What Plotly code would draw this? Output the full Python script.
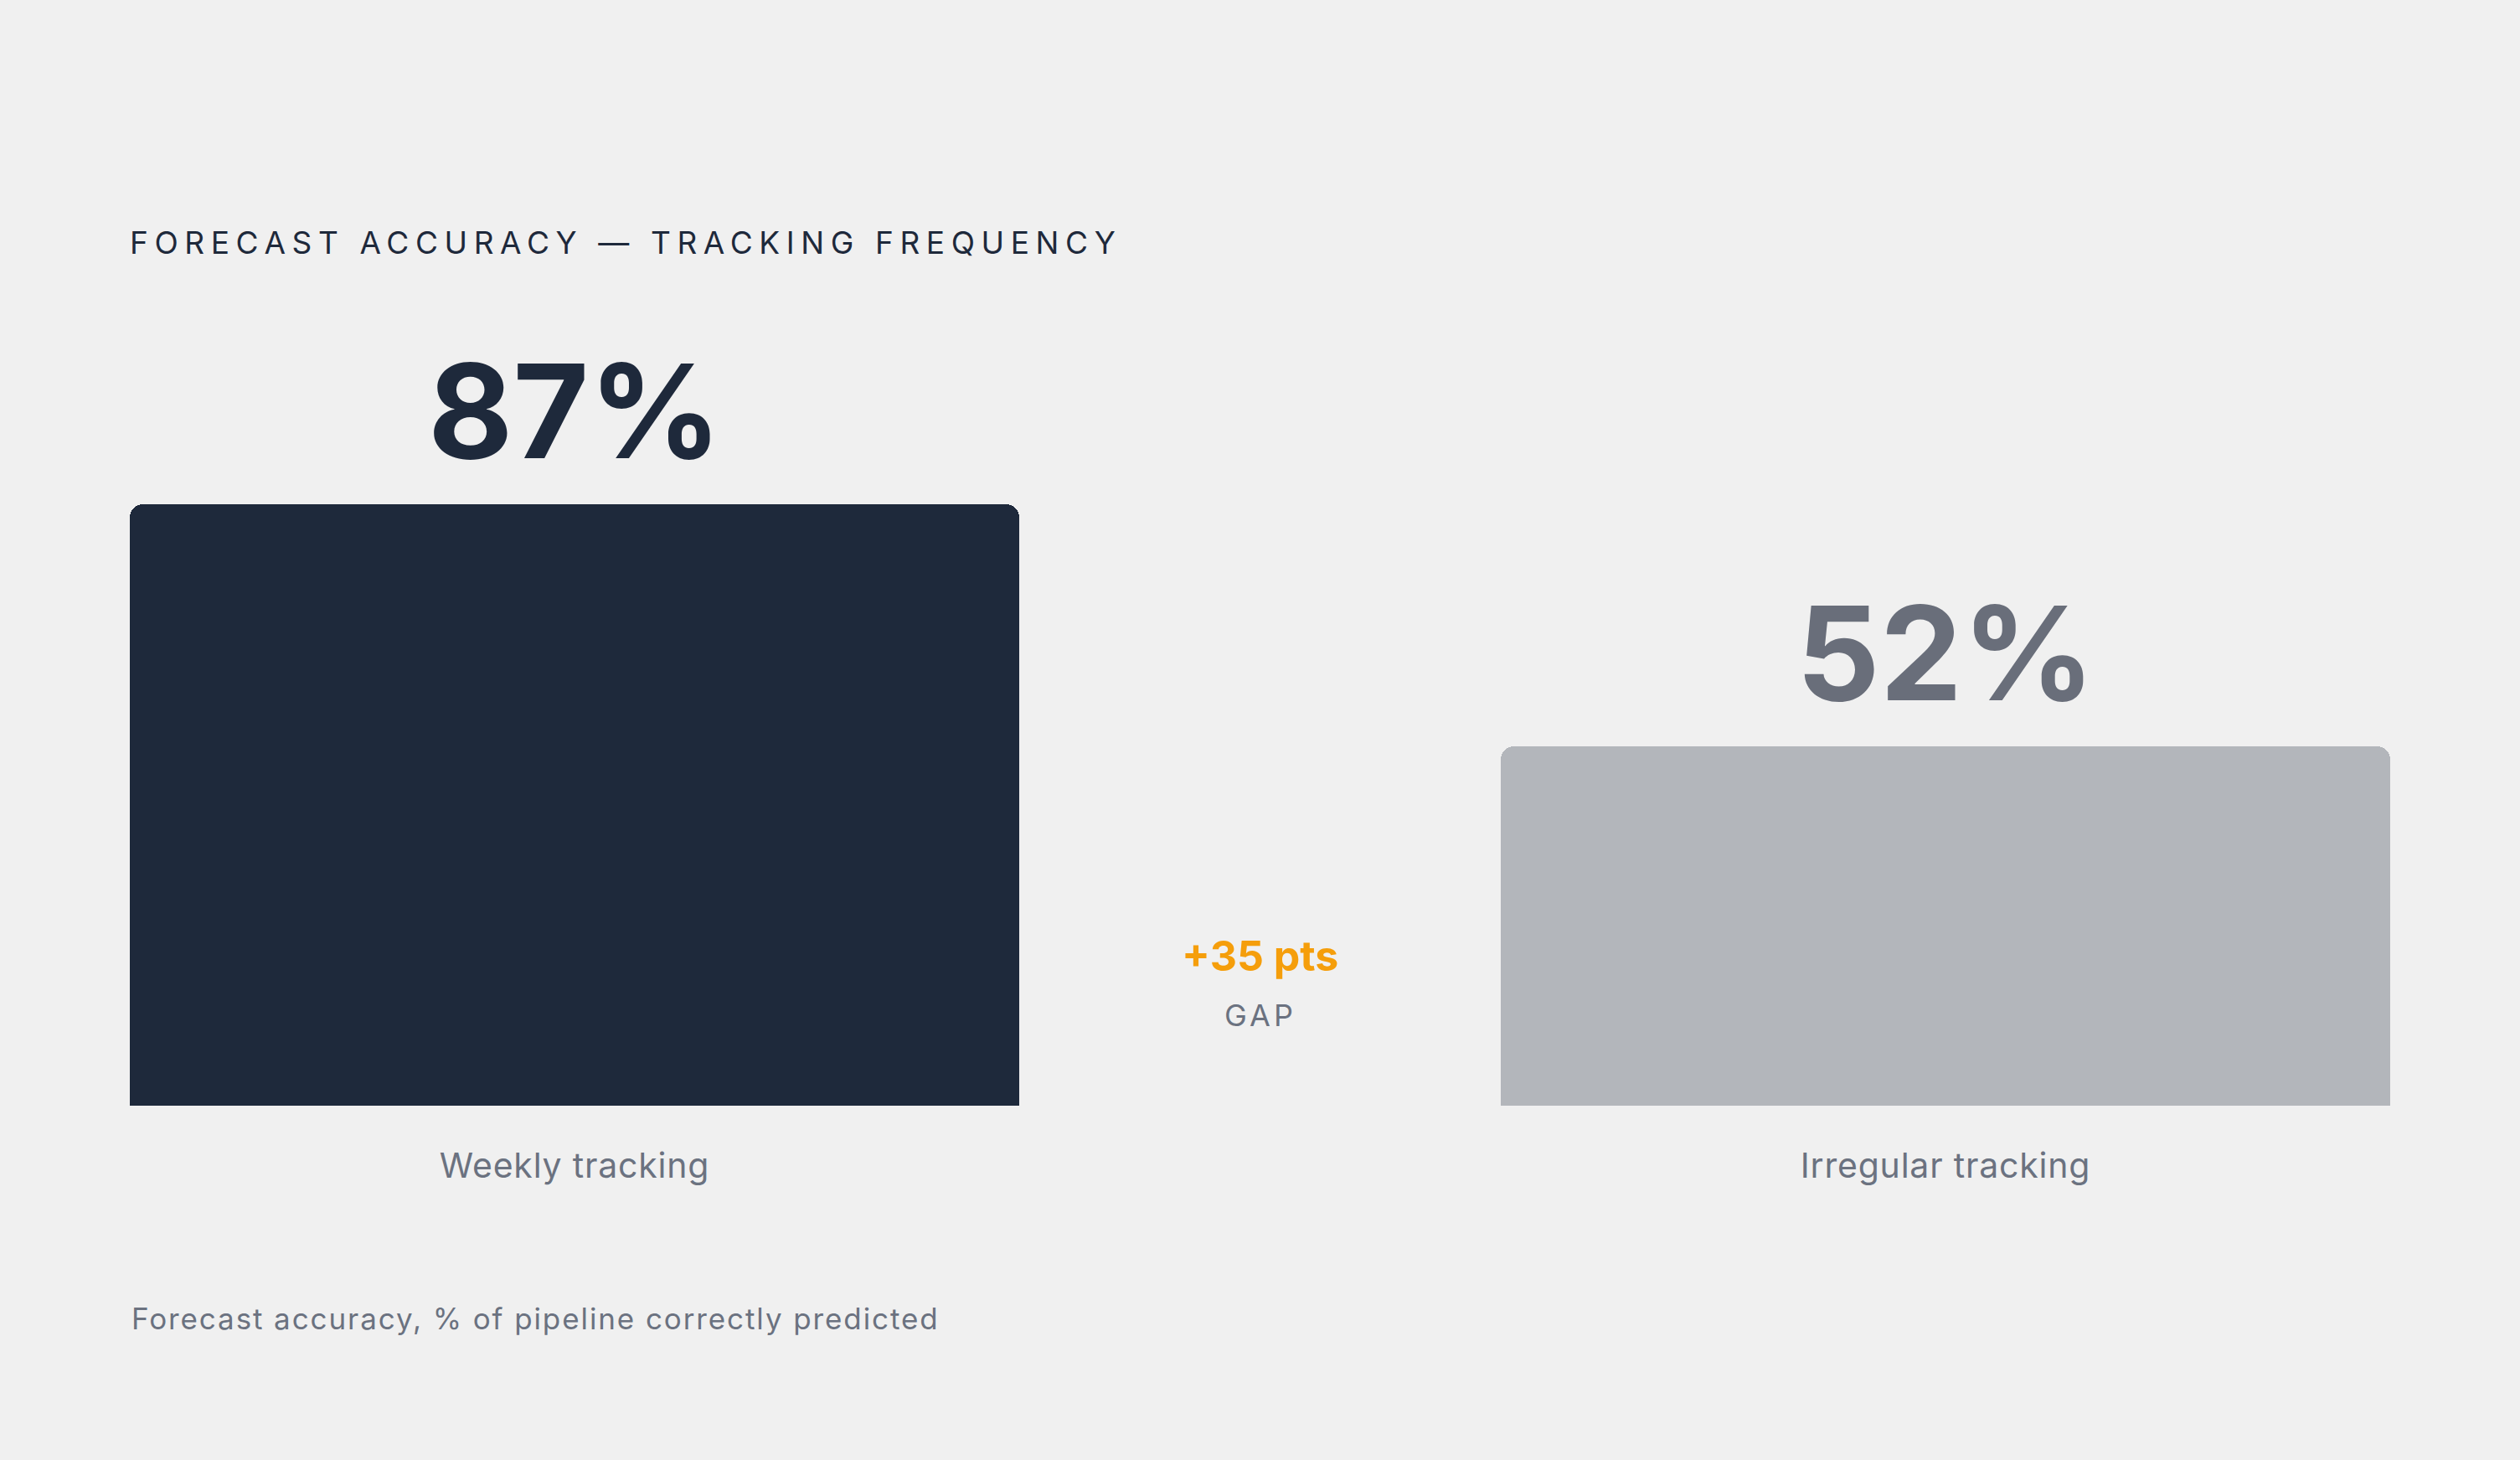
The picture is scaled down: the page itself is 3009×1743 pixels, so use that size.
import plotly.graph_objects as go

# data
categories = ["Weekly tracking", "Irregular tracking"]
accuracy = [87, 52]
bar_colors = ["#1E293B", "#B3B6BB"]
label_colors = ["#1E293B", "#696E7A"]

title_text = "FORECAST ACCURACY — TRACKING FREQUENCY"
footer_text = "Forecast accuracy, % of pipeline correctly predicted"

bg = "#F0F0F0"
gray = "#6B7280"
orange = "#F59E0B"
font = "Inter"

W, H = 3009, 1743

fig = go.Figure()
fig.add_trace(go.Bar(
    x=categories, y=accuracy,
    width=0.6488,
    marker=dict(color=bar_colors, cornerradius=16, line=dict(width=0)),
    hoverinfo="skip",
    showlegend=False,
))

# value labels above the bars
for cat, val, col in zip(categories, accuracy, label_colors):
    fig.add_annotation(
        x=cat, y=val, text=f"{val}%",
        showarrow=False, yanchor="bottom", yshift=15,
        font=dict(family=font, size=156, color=col, weight=700),
    )

# gap between the two
gap = accuracy[0] - accuracy[1]
fig.add_annotation(
    x=0.5, y=21.7, text=f"+{gap} pts", showarrow=False, yanchor="middle",
    font=dict(family=font, size=50, color=orange, weight=700),
)
fig.add_annotation(
    x=0.5, y=13.15, text='<span style="letter-spacing:4px">GAP</span>',
    showarrow=False, yanchor="middle",
    font=dict(family=font, size=36, color=gray),
)

# footer note
fig.add_annotation(
    xref="paper", yref="paper", x=0, y=-0.308, xanchor="left", yanchor="middle",
    text=f'<span style="letter-spacing:1.9px">{footer_text}</span>',
    showarrow=False,
    font=dict(family=font, size=35, color=gray),
)

fig.update_layout(
    width=W, height=H,
    paper_bgcolor=bg, plot_bgcolor=bg,
    margin=dict(l=155, r=155, t=495, b=423),
    title=dict(
        text=f'<span style="letter-spacing:7.6px">{title_text}</span>',
        x=155 / W, xanchor="left", xref="container",
        y=1 - 290 / H, yanchor="middle", yref="container",
        font=dict(family=font, size=37, color="#1E293B"),
    ),
    bargap=0,
)
fig.update_xaxes(
    type="category", range=[-0.3244, 1.3244],
    tickvals=categories,
    ticktext=[f'<span style="letter-spacing:0.8px">{c}</span>' for c in categories],
    showgrid=False, zeroline=False, showline=False, ticks="",
    tickfont=dict(family=font, size=41, color=gray),
    ticklabelstandoff=44,
)
fig.update_yaxes(
    range=[0, 100], visible=False, showgrid=False, zeroline=False,
)

fig.write_html("out.html", config={"displayModeBar": False},
               post_script="document.body.style.margin='0';")
